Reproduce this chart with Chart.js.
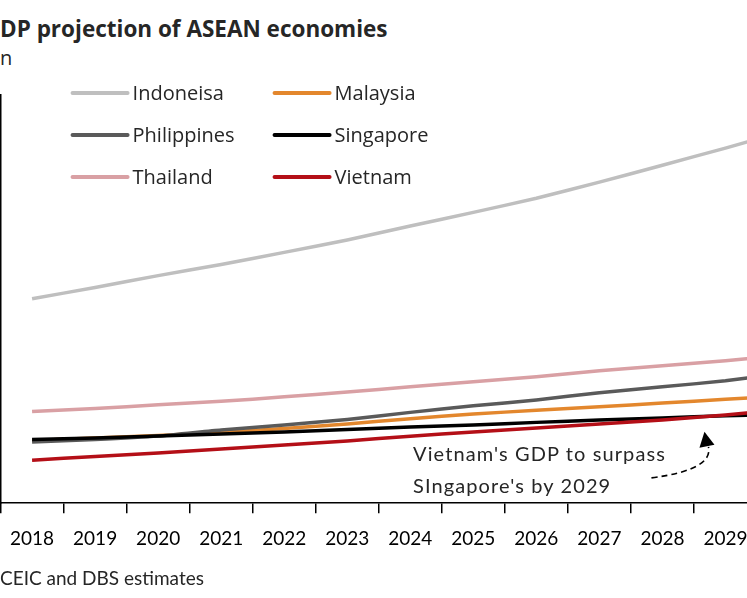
<!DOCTYPE html>
<html>
<head>
<meta charset="utf-8">
<script src="https://cdn.jsdelivr.net/npm/chart.js@4"></script>
<style>
    html, body { margin: 0; padding: 0; background: #fff; }
    body { width: 747px; height: 598px; overflow: hidden; position: relative; }
    .txt { position: absolute; white-space: nowrap; color: #262626; }
    .cut { position: absolute; right: 100%; }
    #title { left: 0; top: 13px; font: bold 22.5px 'Open Sans', sans-serif; }
    #unit { left: 0; top: 44px; font: 20px 'Open Sans', sans-serif; }
    #source { left: 0; top: 566px; font: 19px Lato, sans-serif; }
    .note { font: 20px Lato, sans-serif; left: 413px; letter-spacing: 1.1px; }
    #wrap { position: absolute; left: -4px; top: 0; width: 834px; height: 598px; }
</style>
</head>
<body>
<div id="title" class="txt"><span class="cut">G</span>DP projection of ASEAN economies</div>
<div id="unit" class="txt"><span class="cut">USD b</span>n</div>
<div id="wrap"><canvas id="mainChart"></canvas></div>
<div class="txt note" style="top:441px">Vietnam's GDP to surpass</div>
<div class="txt note" style="top:473px">SIngapore's by 2029</div>
<div id="source" class="txt"><span class="cut">Source: </span>CEIC and DBS estimates</div>

<script>
// Data (USD bn)
const years = ['2018', '2019', '2020', '2021', '2022', '2023', '2024', '2025', '2026', '2027', '2028', '2029', '2030'];
const indonesia   = [1002, 1057, 1115, 1170, 1229, 1290, 1358, 1425, 1494, 1573, 1656, 1740, 1828];
const malaysia    = [307, 319, 332, 346, 366, 388, 414, 437, 455, 472, 491, 509, 526];
const philippines = [300, 312, 329, 359, 383, 410, 445, 477, 506, 541, 570, 600, 639];
const singapore   = [312, 319, 329, 339, 349, 361, 373, 383, 396, 408, 418, 428, 437];
const thailand    = [449, 464, 482, 499, 521, 545, 570, 595, 619, 649, 673, 698, 727];
const vietnam     = [211, 229, 246, 265, 285, 305, 328, 349, 369, 388, 408, 432, 462];

const seriesNames  = ['Indoneisa', 'Malaysia', 'Philippines', 'Singapore', 'Thailand', 'Vietnam'];
const seriesData   = [indonesia, malaysia, philippines, singapore, thailand, vietnam];
const seriesColors = ['#bfbfbf', '#e3872d', '#5a5a5a', '#000000', '#d9a0a4', '#b40f17'];

// Legend inside the plot, 2 columns x 3 rows
const insideLegend = {
    id: 'insideLegend',
    afterDraw(chart) {
        const c = chart.ctx;
        const area = chart.chartArea;
        c.save();
        c.font = "20px 'Open Sans', sans-serif";
        c.textBaseline = 'middle';
        chart.data.datasets.forEach((ds, i) => {
            const col = i % 2, row = Math.floor(i / 2);
            const x0 = area.left + 72 + col * 202;
            const y0 = area.top - 2 + row * 42;
            c.strokeStyle = ds.borderColor;
            c.lineWidth = 4;
            c.lineCap = 'round';
            c.beginPath();
            c.moveTo(x0, y0);
            c.lineTo(x0 + 55, y0);
            c.stroke();
            c.fillStyle = '#262626';
            c.fillText(ds.label, x0 + 60, y0 + 1);
        });
        c.restore();
    }
};

// Dashed arrow pointing at the crossing
const noteArrow = {
    id: 'noteArrow',
    afterDraw(chart) {
        const c = chart.ctx;
        const xs = chart.scales.x;
        const ys = chart.scales.y;
        const xc = xs.getPixelForValue(11) - 21;
        const yc = ys.getPixelForValue(singapore[11]) + 16;
        c.save();
        c.strokeStyle = '#000';
        c.lineWidth = 1.6;
        c.setLineDash([6, 4]);
        c.beginPath();
        c.moveTo(xc - 53, yc + 46);
        c.quadraticCurveTo(xc + 9, yc + 38, xc + 4, yc + 15);
        c.stroke();
        c.setLineDash([]);
        c.fillStyle = '#000';
        c.beginPath();
        c.moveTo(xc, yc);
        c.lineTo(xc - 5, yc + 16);
        c.lineTo(xc + 10, yc + 13);
        c.closePath();
        c.fill();
        c.restore();
    }
};

const ctx = document.getElementById('mainChart');
new Chart(ctx, {
    type: 'line',
    data: {
        labels: years,
        datasets: seriesNames.map((name, i) => ({
            label: name,
            data: seriesData[i],
            borderColor: seriesColors[i],
            borderWidth: 3.5,
            pointRadius: 0,
            tension: 0.2,
            fill: false,
            order: seriesNames.length - i
        }))
    },
    options: {
        responsive: true,
        maintainAspectRatio: false,
        animation: false,
        layout: { padding: { left: 1, top: 95, right: 10, bottom: 34 } },
        plugins: {
            legend: { display: false },
            tooltip: { enabled: false }
        },
        scales: {
            x: {
                offset: true,
                grid: { offset: true, drawOnChartArea: false, drawTicks: true, tickLength: 10, color: '#000', lineWidth: 1.5 },
                border: { color: '#000', width: 1.5 },
                ticks: { color: '#000', font: { family: 'Lato', size: 19 }, padding: 14, maxRotation: 0, autoSkip: false }
            },
            y: {
                min: 0,
                max: 2000,
                ticks: { display: false },
                grid: { display: false, drawTicks: false },
                border: { display: true, color: '#000', width: 1.5 }
            }
        }
    },
    plugins: [insideLegend, noteArrow]
});
</script>
</body>
</html>
